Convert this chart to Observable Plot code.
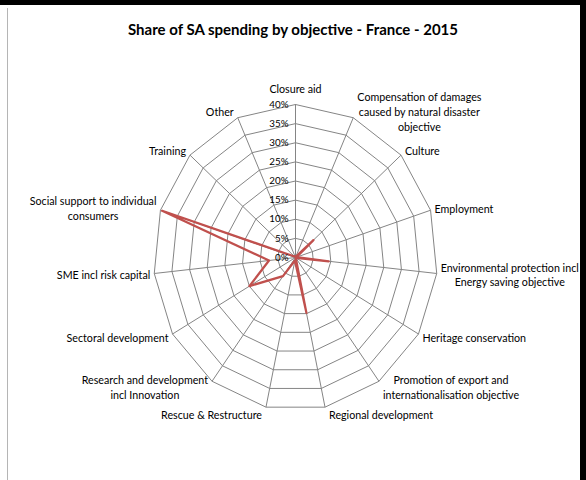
<!DOCTYPE html>
<html>
<head>
<meta charset="utf-8">
<script src="https://cdn.jsdelivr.net/npm/d3@7"></script>
<script src="https://cdn.jsdelivr.net/npm/@observablehq/plot@0.6"></script>
<style>
  html, body { margin: 0; padding: 0; background: #fff; }
  #wrap { position: relative; width: 586px; height: 480px; overflow: hidden; font-family: Lato, "Open Sans", sans-serif; }
  #title { box-sizing: border-box; height: 44px; padding-top: 21px; line-height: 17px; text-align: center;
           font-weight: bold; font-size: 15px; color: #000; }
  #chart svg { display: block; }
  .b-top { position: absolute; left: 0; top: 0; width: 586px; height: 5px; background: #000; }
  .b-right { position: absolute; right: 0; top: 0; width: 6px; height: 480px; background: #000; }
  .b-left { position: absolute; left: 7px; top: 8px; width: 1px; height: 472px; background: #b5b5b5; }
</style>
</head>
<body>
<div id="wrap">
  <div id="title">Share of SA spending by objective - France - 2015</div>
  <div id="chart"></div>
  <div class="b-top"></div>
  <div class="b-right"></div>
  <div class="b-left"></div>
</div>
<script>
// ---- data ----
const categories = [
  "Closure aid",
  "Compensation of damages caused by natural disaster objective",
  "Culture",
  "Employment",
  "Environmental protection incl Energy saving objective",
  "Heritage conservation",
  "Promotion of export and internationalisation objective",
  "Regional development",
  "Rescue & Restructure",
  "Research and development incl Innovation",
  "Sectoral development",
  "SME incl risk capital",
  "Social support to individual consumers",
  "Training",
  "Other"
];
const categoryLabels = [
  "Closure aid",
  "Compensation of damages\ncaused by natural disaster\nobjective",
  "Culture",
  "Employment",
  "Environmental protection incl\nEnergy saving objective",
  "Heritage conservation",
  "Promotion of export and\ninternationalisation objective",
  "Regional development",
  "Rescue & Restructure",
  "Research and development\nincl Innovation",
  "Sectoral development",
  "SME incl risk capital",
  "Social support to individual\nconsumers",
  "Training",
  "Other"
];
const shares = [0.1, 0.3, 6.8, 0.3, 9.4, 0.2, 0.1, 14.8, 0.8, 6.0, 15.0, 7.5, 39.5, 0.4, 0.4];
const tickValues = [0, 5, 10, 15, 20, 25, 30, 35, 40];
const tickLabels = ["0%", "5%", "10%", "15%", "20%", "25%", "30%", "35%", "40%"];

// ---- layout ----
const W = 586, H = 436;
const cx = 295, cy = 213, rx = 142, ry = 153;
const MAX = tickValues[tickValues.length - 1];
const n = categories.length;
const ang = i => i * 2 * Math.PI / n;
const kx = rx / MAX, ky = ry / MAX;
const FONT = 10.7, LH = 1.38;

const canvas = document.createElement("canvas");
const ctx = canvas.getContext("2d");
ctx.font = `${FONT}px Lato`;

// grid rings
const rings = tickValues.filter(v => v > 0).flatMap(level =>
  d3.range(n + 1).map(j => ({level, x: level * Math.sin(ang(j % n)), y: level * Math.cos(ang(j % n))}))
);
// spokes
const spokes = categories.map((c, i) => ({x2: MAX * Math.sin(ang(i)), y2: MAX * Math.cos(ang(i))}));
// series
const series = d3.range(n + 1).map(j => {
  const i = j % n;
  return {x: shares[i] * Math.sin(ang(i)), y: shares[i] * Math.cos(ang(i))};
});
// category labels
const labels = categoryLabels.map((t, i) => {
  const s = Math.sin(ang(i)), c = Math.cos(ang(i));
  const lines = t.split("\n");
  const w = d3.max(lines, l => ctx.measureText(l).width);
  const h = lines.length * FONT * LH;
  const gap = 4;
  let dxp, dyp;
  if (Math.abs(s) < 0.05) {
    dxp = 0;
    dyp = c > 0 ? -(h / 2 + 9) : (h / 2 + 9);
  } else {
    dxp = Math.sign(s) * (gap + w / 2);
    dyp = -c * 7;
  }
  return {text: t, x: MAX * s + dxp / kx, y: MAX * c - dyp / ky};
});
// tick labels along first spoke
const ticks = tickValues.map((v, i) => ({x: v * Math.sin(ang(0)), y: v * Math.cos(ang(0)), t: tickLabels[i]}));

const plot = Plot.plot({
  width: W, height: H,
  marginLeft: cx - rx, marginRight: W - (cx + rx),
  marginTop: cy - ry, marginBottom: H - (cy + ry),
  x: {domain: [-MAX, MAX], axis: null},
  y: {domain: [-MAX, MAX], axis: null},
  style: {fontFamily: "Lato, sans-serif", fontSize: FONT + "px", color: "#000", background: "transparent", overflow: "visible"},
  marks: [
    Plot.line(rings, {x: "x", y: "y", z: "level", stroke: "#858585", strokeWidth: 1}),
    Plot.link(spokes, {x1: 0, y1: 0, x2: "x2", y2: "y2", stroke: "#858585", strokeWidth: 1}),
    Plot.line(series, {x: "x", y: "y", stroke: "#C0504D", strokeWidth: 2.25, strokeLinejoin: "round"}),
    Plot.text(ticks, {x: "x", y: "y", text: "t", textAnchor: "end", dx: -7, fontSize: 9.8, fill: "#000"}),
    Plot.text(labels, {x: "x", y: "y", text: "text", textAnchor: "middle", lineAnchor: "middle", lineHeight: LH, fill: "#000"})
  ]
});
document.getElementById("chart").appendChild(plot);
</script>
</body>
</html>
